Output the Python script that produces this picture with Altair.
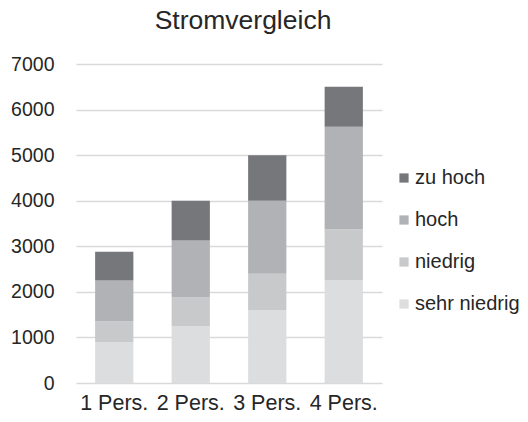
import altair as alt
import pandas as pd

categories = ["1 Pers.", "2 Pers.", "3 Pers.", "4 Pers."]
series = ["sehr niedrig", "niedrig", "hoch", "zu hoch"]
sehr_niedrig = [900, 1250, 1600, 2250]
niedrig = [450, 625, 800, 1125]
hoch = [900, 1250, 1600, 2250]
zu_hoch = [630, 875, 1000, 875]
colors = ["#dcdddf", "#c8c9cb", "#b1b2b5", "#76777b"]

rows = []
for i, s in enumerate(series):
    vals = [sehr_niedrig, niedrig, hoch, zu_hoch][i]
    for c, v in zip(categories, vals):
        rows.append({"Kategorie": c, "Serie": s, "Wert": v, "Ord": i})
df = pd.DataFrame(rows)

font = "Liberation Sans"
legend_order = list(reversed(series))
legend_colors = list(reversed(colors))

chart = alt.Chart(df).mark_bar().encode(
    x=alt.X("Kategorie:N", sort=categories, title=None,
            scale=alt.Scale(paddingInner=0.5, paddingOuter=0.25),
            axis=alt.Axis(labelAngle=0, domain=False, ticks=False, labelPadding=9,
                          labelFontSize=21.5, labelFont=font, labelColor="#262626")),
    y=alt.Y("Wert:Q", stack="zero", title=None,
            scale=alt.Scale(domain=[0, 7000], nice=False),
            axis=alt.Axis(values=[0, 1000, 2000, 3000, 4000, 5000, 6000, 7000],
                          format="d",
                          domain=False, ticks=False, labelPadding=22,
                          labelFontSize=19.5, labelFont=font, labelColor="#262626",
                          gridColor="#d9d9d9", gridWidth=1.5)),
    color=alt.Color("Serie:N", title=None,
                    scale=alt.Scale(domain=legend_order, range=legend_colors),
                    legend=alt.Legend(orient="none", legendX=318, legendY=104,
                                      symbolType="square", symbolSize=85,
                                      symbolStrokeWidth=0,
                                      labelFontSize=20, labelFont=font, labelColor="#262626",
                                      labelOffset=1, rowPadding=22)),
    order=alt.Order("Ord:Q", sort="ascending"),
).properties(
    width=306, height=319,
    title=alt.TitleParams("Stromvergleich", fontSize=26.5, font=font, fontWeight="normal",
                          color="#262626", anchor="middle", dx=14, offset=20),
    autosize=alt.AutoSizeParams(type="none"),
    padding={"left": 68, "top": 56, "right": 138, "bottom": 31},
).configure_view(stroke=None)

chart.save("out.html", embed_options={"renderer": "svg", "actions": False})
